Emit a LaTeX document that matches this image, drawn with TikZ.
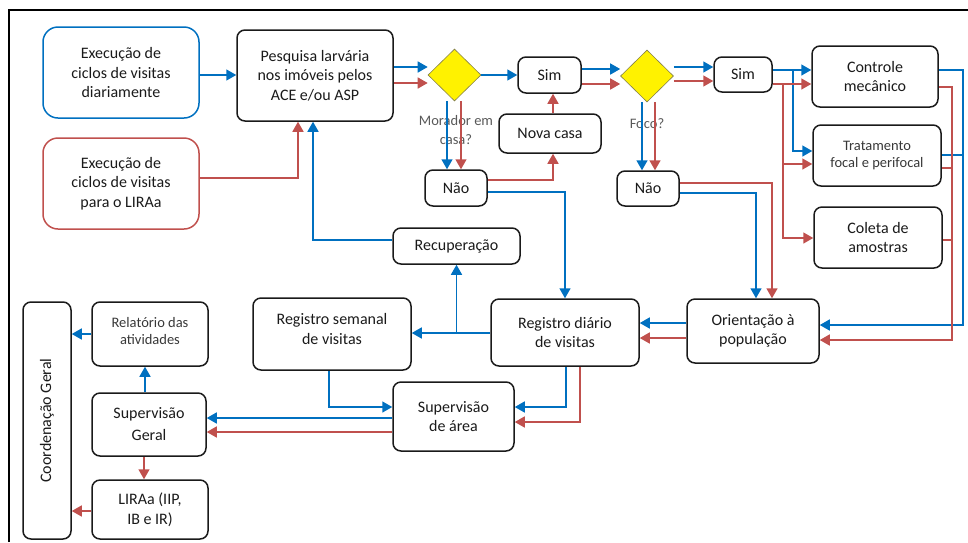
\documentclass[tikz,border=0pt]{standalone}
\usepackage{fontspec}
\setmainfont{Carlito}
\usetikzlibrary{arrows.meta,shapes.geometric}
\definecolor{cblue}{HTML}{0070C0}
\definecolor{cred}{HTML}{C0504D}
\definecolor{ctext}{HTML}{1A1A1A}
\definecolor{cgray}{HTML}{595959}
\tikzset{
  box/.style={draw=ctext, line width=1.5pt, rounded corners=8pt, align=center, inner sep=0pt, text=ctext,
    font=\fontsize{16}{19.5}\selectfont},
  smallbox/.style={box, font=\fontsize{14.5}{17.5}\selectfont, text=black!78},
  exbox/.style={box, rounded corners=15pt},
  dec/.style={diamond, draw=black!55!yellow, line width=0.6pt, fill=yellow, inner sep=0pt,
    minimum width=53pt, minimum height=52pt},
  lab/.style={text=cgray, align=center, font=\fontsize{14.5}{19}\selectfont},
  btext/.style={align=center, inner sep=0pt, text=ctext, font=\fontsize{16}{19.5}\selectfont},
  bline/.style={draw=cblue, line width=1.5pt},
  rline/.style={draw=cred, line width=1.5pt},
  bl/.style={bline, -{Triangle[length=10pt,width=11pt]}},
  rd/.style={rline, -{Triangle[length=10pt,width=11pt]}},
}
\begin{document}
\begin{tikzpicture}[x=1pt,y=-1pt]
\useasboundingbox (0,0) rectangle (968,542);
\draw[line width=2pt, black] (9,542) -- (9,10) -- (968,10);

% nodes
\node[exbox, draw=cblue, minimum width=156pt, minimum height=91pt] (exd) at (121,72.5) {Execução de\\ciclos de visitas\\diariamente};
\node[exbox, draw=cred, minimum width=156pt, minimum height=91pt] (exl) at (121,183.5) {Execução de\\ciclos de visitas\\para o LIRAa};
\node[box, minimum width=156pt, minimum height=91pt] (pesq) at (315,75.5) {Pesquisa larvária\\nos imóveis pelos\\ACE e/ou ASP};
\node[dec] (d1) at (454.5,75) {};
\node[box, minimum width=63pt, minimum height=36pt] (sim1) at (549.5,75) {Sim};
\node[box, minimum width=102pt, minimum height=39pt] (nova) at (550,133.5) {Nova casa};
\node[box, minimum width=62pt, minimum height=36pt] (nao1) at (456,188) {Não};
\node[dec] (d2) at (647,76) {};
\node[box, minimum width=58pt, minimum height=35pt] (sim2) at (743,74.5) {Sim};
\node[box, minimum width=62pt, minimum height=35pt] (nao2) at (648,188.5) {Não};
\node[box, minimum width=126pt, minimum height=61pt] (ctrl) at (875,76.5) {Controle\\mecânico};
\node[smallbox, minimum width=128pt, minimum height=61pt] (trat) at (877,155.5) {Tratamento\\focal e perifocal};
\node[box, minimum width=128pt, minimum height=61pt] (colet) at (878,237.5) {Coleta de\\amostras};
\node[box, minimum width=127pt, minimum height=36pt] (recup) at (456.5,246) {Recuperação};
\node[box, minimum width=132pt, minimum height=64pt] (orient) at (753,331) {Orientação à\\população};
\node[box, minimum width=148pt, minimum height=67pt] (regd) at (565,332.5) {Registro diário\\de visitas};
\node[box, minimum width=158pt, minimum height=72pt] (regs) at (332,334) {};
\node[btext] (regst) at ([yshift=5pt]regs.center) {Registro semanal\\de visitas};
\node[box, minimum width=121pt, minimum height=69pt] (supa) at (453.5,416.5) {Supervisão\\de área};
\node[smallbox, minimum width=116pt, minimum height=64pt] (rel) at (150,334) {};
\node[btext, font=\fontsize{14.5}{17.5}\selectfont, text=black!78] (relt) at ([yshift=3pt]rel.center) {Relatório das\\atividades};
\node[box, minimum width=114pt, minimum height=63pt, font=\fontsize{16}{22}\selectfont] (supg) at (149,424.5) {Supervisão\\Geral};
\node[box, minimum width=116pt, minimum height=59pt] (lira) at (150,509.5) {LIRAa (IIP,\\IB e IR)};
\node[box, minimum width=48pt, minimum height=237pt] (coord) at (47,420.5) {};
\node[rotate=90, text=ctext, font=\fontsize{16}{19.5}\selectfont] (coordt) at (coord.center) {Coordenação Geral};

% labels
\node[lab] (lmor) at (456,130) {Morador em\\casa?};
\node[lab] (lfoco) at (647,124) {Foco?};

% connectors
\draw[bl] (exd.east |- 0,75) -- (pesq.west |- 0,75);
\draw[rd] (exl.east |- 0,178) -| (pesq.south -| 298,0);
\draw[bl] (recup.west |- 0,240) -| (pesq.south -| 313,0);
\draw[bl] (pesq.east |- 0,67) -- (d1.west |- 0,67);
\draw[rd] (pesq.east |- 0,83) -- (d1.west |- 0,83);
\draw[bl] (d1.east) -- (sim1.west);
\draw[bl] (d1.south -| 447,0) -- (nao1.north -| 447,0);
\draw[rd] (d1.south -| 461,0) -- (nao1.north -| 461,0);
\draw[rd] (nao1.east |- 0,180) -| (nova.south -| 553,0);
\draw[rd] (nova.north -| 553,0) -- (sim1.south -| 553,0);
\draw[bl] (nao1.east |- 0,192) -| (regd.north -| 565,0);
\draw[bl] (sim1.east |- 0,69) -- (d2.west |- 0,69);
\draw[rd] (sim1.east |- 0,84) -- (d2.west |- 0,84);
\draw[bl] (d2.east |- 0,67) -- (sim2.west |- 0,67);
\draw[rd] (d2.east |- 0,81) -- (sim2.west |- 0,81);
\draw[bl] (d2.south -| 642,0) -- (nao2.north -| 642,0);
\draw[rd] (d2.south -| 655,0) -- (nao2.north -| 655,0);
\draw[rd] (nao2.east |- 0,183) -| (orient.north -| 772,0);
\draw[bl] (nao2.east |- 0,193) -| (orient.north -| 756,0);

\coordinate (bj) at (793,70);
\coordinate (rj) at (783,84);
\draw[bl] (sim2.east |- bj) -- (ctrl.west |- bj);
\draw[bl] (bj) |- (trat.west |- 0,151);
\draw[rd] (sim2.east |- rj) -- (ctrl.west |- rj);
\draw[rd] (rj) |- (colet.west |- 0,238);
\draw[rd] (rj |- 0,164) -- (trat.west |- 0,164);

\coordinate (bR) at (963,325);
\coordinate (rR) at (952,340);
\draw[bl] (ctrl.east |- 0,70) -| (bR) -- (orient.east |- bR);
\draw[bline] (trat.east |- 0,155) -- (bR |- 0,155);
\draw[rd] (ctrl.east |- 0,87) -| (rR) -- (orient.east |- rR);
\draw[rline] (trat.east |- 0,168) -- (rR |- 0,168);
\draw[rline] (colet.east |- 0,240) -- (rR |- 0,240);

\draw[bl] (orient.west |- 0,323) -- (regd.east |- 0,323);
\draw[rd] (orient.west |- 0,338) -- (regd.east |- 0,338);
\draw[bl] (regd.south -| 566,0) |- (supa.east |- 0,407);
\draw[rd] (regd.south -| 580,0) |- (supa.east |- 0,422);
\draw[bl] (regd.west |- 0,333) -- (regs.east |- 0,333);
\draw[bl] (recup.south |- 0,333) -- (recup.south);
\draw[bl] (regs.south -| 329,0) |- (supa.west |- 0,407);
\draw[bl] (supa.west |- 0,418) -- (supg.east |- 0,418);
\draw[rd] (supa.west |- 0,432) -- (supg.east |- 0,432);
\draw[bl] (supg.north -| 145,0) -- (rel.south -| 145,0);
\draw[rd] (supg.south -| 144,0) -- (lira.north -| 144,0);
\draw[bl] (rel.west |- 0,334) -- (coord.east |- 0,334);
\draw[rd] (lira.west |- 0,511) -- (coord.east |- 0,511);
\end{tikzpicture}
\end{document}
